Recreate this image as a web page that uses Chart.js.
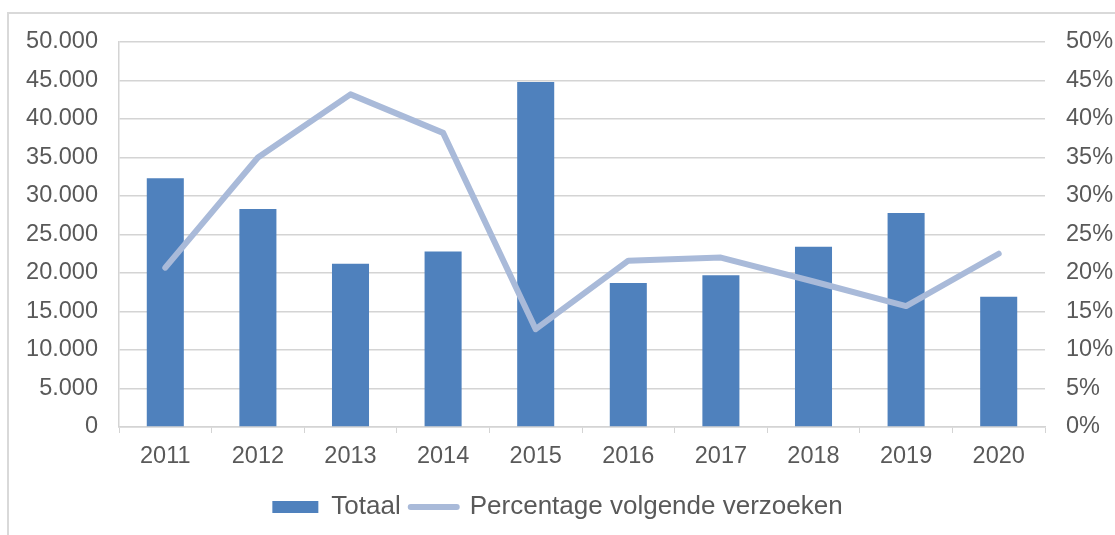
<!DOCTYPE html>
<html>
<head>
<meta charset="utf-8">
<script src="https://cdn.jsdelivr.net/npm/chart.js@4.4.1/dist/chart.umd.min.js"></script>
<style>
    html, body { margin: 0; padding: 0; background: #fff; overflow: hidden; }
    #frame { position: absolute; left: 7px; top: 12px; width: 1300px; height: 800px; border: 2px solid #d9d9d9; }
    #wrap { position: absolute; left: 0; top: 0; width: 1115px; height: 535px; }
</style>
</head>
<body>
<div id="frame"></div>
<div id="wrap"><canvas id="comboChart"></canvas></div>
<script>
var years = ['2011', '2012', '2013', '2014', '2015', '2016', '2017', '2018', '2019', '2020'];
var totaal = [32300, 28300, 21200, 22800, 44800, 18700, 19700, 23400, 27800, 16900];
var percentage = [20.7, 35.0, 43.2, 38.2, 12.7, 21.6, 22.0, 18.9, 15.7, 22.5];

var barColor = '#4f81bd';
var lineColor = '#a9bad9';
var textColor = '#595959';
var gridColor = '#d4d4d4';
var fontFamily = "'Liberation Sans', Arial, sans-serif";

Chart.defaults.font.family = fontFamily;
Chart.defaults.color = textColor;

function dotThousands(v) {
    return String(v).replace(/\B(?=(\d{3})+(?!\d))/g, '.');
}

var ctx = document.getElementById('comboChart').getContext('2d');
var comboChart = new Chart(ctx, {
    type: 'bar',
    data: {
        labels: years,
        datasets: [{
            label: 'Totaal',
            data: totaal,
            backgroundColor: barColor,
            borderWidth: 0,
            barPercentage: 0.4,
            categoryPercentage: 1.0,
            yAxisID: 'y',
            order: 2
        }, {
            type: 'line',
            label: 'Percentage volgende verzoeken',
            data: percentage,
            borderColor: lineColor,
            backgroundColor: lineColor,
            borderWidth: 6,
            borderJoinStyle: 'round',
            borderCapStyle: 'round',
            pointRadius: 0,
            tension: 0,
            fill: false,
            yAxisID: 'y1',
            order: 1
        }]
    },
    options: {
        responsive: true,
        maintainAspectRatio: false,
        animation: false,
        layout: {
            padding: { top: 42, left: 0, right: 0, bottom: 5 }
        },
        plugins: {
            tooltip: { enabled: false },
            legend: {
                position: 'bottom',
                labels: {
                    usePointStyle: true,
                    pointStyleWidth: 46,
                    boxWidth: 46,
                    boxHeight: 12,
                    padding: 10,
                    color: textColor,
                    font: { size: 26 },
                    generateLabels: function (chart) {
                        return chart.data.datasets.map(function (ds, i) {
                            var isLine = ds.type === 'line';
                            return {
                                text: ds.label,
                                datasetIndex: i,
                                fillStyle: isLine ? 'rgba(0,0,0,0)' : barColor,
                                strokeStyle: isLine ? lineColor : barColor,
                                lineWidth: isLine ? 6 : 0,
                                lineCap: 'round',
                                pointStyle: isLine ? 'line' : 'rect',
                                fontColor: textColor,
                                hidden: false
                            };
                        });
                    }
                }
            }
        },
        scales: {
            x: {
                offset: true,
                grid: {
                    display: true,
                    offset: true,
                    drawOnChartArea: false,
                    drawTicks: true,
                    tickLength: 6,
                    color: gridColor
                },
                border: { display: true, color: gridColor, width: 1.5 },
                ticks: {
                    padding: 9,
                    color: textColor,
                    font: { size: 23.5 },
                    maxRotation: 0
                },
                afterFit: function (scale) { scale.height = 57; }
            },
            y: {
                position: 'left',
                min: 0,
                max: 50000,
                grid: { color: gridColor, lineWidth: 1.5, drawTicks: false },
                border: { display: true, color: gridColor, width: 1.5 },
                ticks: {
                    stepSize: 5000,
                    padding: 21,
                    color: textColor,
                    font: { size: 23.5 },
                    callback: function (v) { return dotThousands(v); }
                },
                afterFit: function (scale) { scale.width = 119; }
            },
            y1: {
                position: 'right',
                min: 0,
                max: 50,
                grid: { drawOnChartArea: false, drawTicks: false },
                border: { display: false },
                ticks: {
                    stepSize: 5,
                    padding: 21,
                    color: textColor,
                    font: { size: 23.5 },
                    callback: function (v) { return v + '%'; }
                },
                afterFit: function (scale) { scale.width = 70; }
            }
        }
    }
});
</script>
</body>
</html>
